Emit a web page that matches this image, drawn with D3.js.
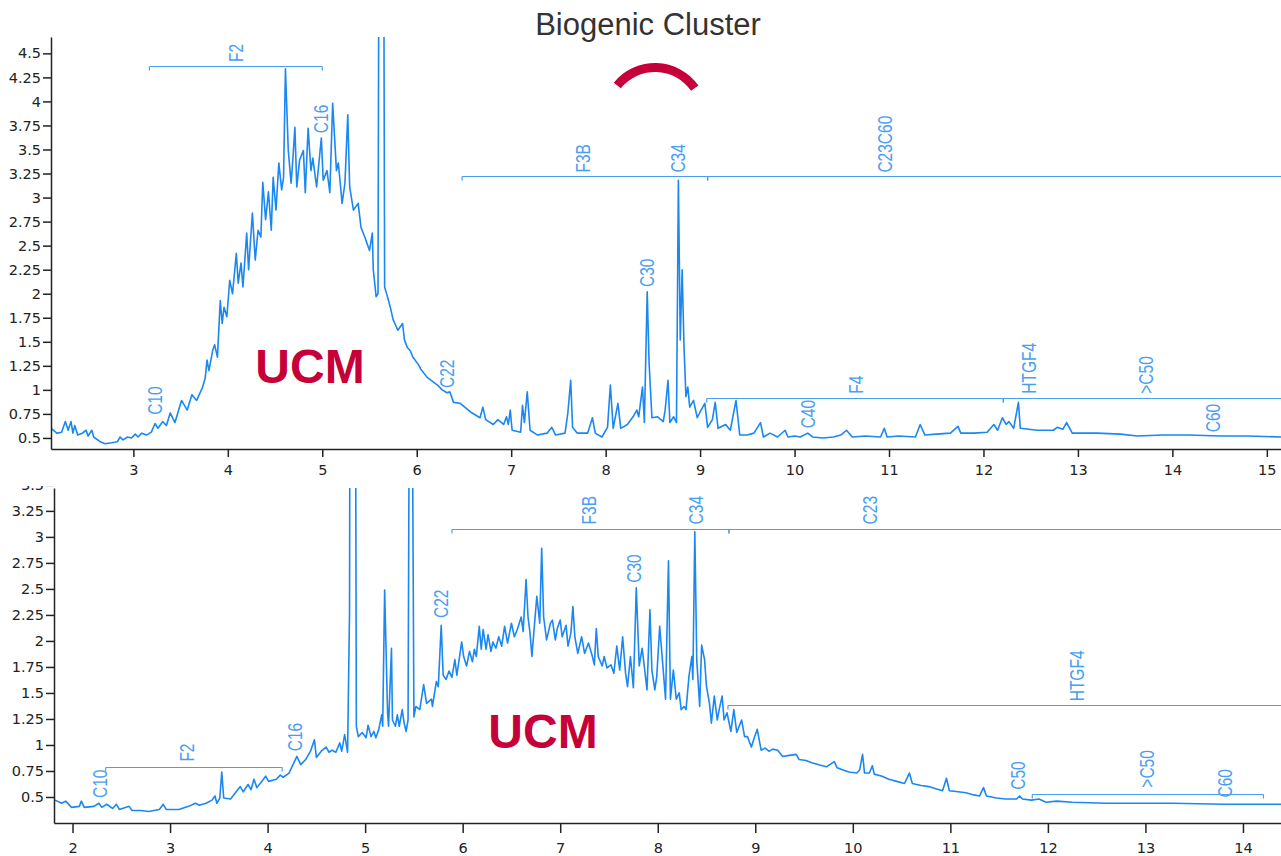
<!DOCTYPE html>
<html lang="en">
<head>
  <meta charset="UTF-8">
  <title>Biogenic Cluster</title>
  <script src="https://d3js.org/d3.v7.min.js"></script>
  <style>
    body { margin: 0; background: #fff; }
  </style>
</head>
<body>
<script>
  // Upper chromatogram: [retention time, signal]
  const topTrace = [
    [2.13,0.60],[2.19,0.55],[2.24,0.56],[2.28,0.67],[2.31,0.58],[2.34,0.67],[2.36,0.55],[2.38,0.63],[2.41,0.53],
    [2.46,0.55],[2.50,0.58],[2.52,0.52],[2.56,0.58],[2.58,0.51],[2.65,0.46],[2.70,0.44],[2.77,0.45],[2.83,0.46],
    [2.86,0.51],[2.89,0.48],[2.94,0.51],[2.98,0.50],[3.02,0.54],[3.05,0.51],[3.09,0.55],[3.14,0.53],[3.19,0.56],
    [3.23,0.65],[3.26,0.60],[3.31,0.67],[3.35,0.63],[3.39,0.76],[3.44,0.66],[3.51,0.89],[3.57,0.79],[3.62,0.95],
    [3.67,0.89],[3.73,1.02],[3.76,1.12],[3.78,1.31],[3.80,1.20],[3.84,1.41],[3.86,1.47],[3.89,1.34],[3.92,1.93],
    [3.94,1.69],[3.96,1.86],[3.99,1.76],[4.02,2.14],[4.05,2.00],[4.09,2.42],[4.11,2.11],[4.14,2.32],[4.16,2.07],
    [4.20,2.63],[4.22,2.25],[4.26,2.84],[4.29,2.35],[4.32,2.66],[4.35,2.59],[4.37,3.16],[4.40,2.77],[4.43,3.06],
    [4.46,2.66],[4.48,3.21],[4.51,2.87],[4.54,3.36],[4.57,3.08],[4.59,3.21],[4.61,4.34],[4.64,3.49],[4.67,3.15],
    [4.69,3.42],[4.71,3.73],[4.73,3.11],[4.76,3.39],[4.80,3.49],[4.82,3.05],[4.85,3.72],[4.88,3.28],[4.90,3.41],
    [4.94,3.11],[4.99,3.62],[5.01,3.18],[5.05,3.28],[5.08,3.05],[5.11,3.98],[5.15,3.28],[5.17,3.36],[5.21,2.94],
    [5.24,3.15],[5.27,3.86],[5.29,3.11],[5.33,2.87],[5.38,2.94],[5.41,2.69],[5.45,2.59],[5.50,2.45],[5.53,2.63],
    [5.54,2.25],[5.57,1.97],[5.59,2.00],[5.60,6.00],[5.65,6.00],[5.66,2.07],[5.69,1.97],[5.72,1.86],[5.75,1.73],
    [5.80,1.62],[5.85,1.69],[5.87,1.52],[5.90,1.44],[5.93,1.41],[5.96,1.34],[6.02,1.26],[6.04,1.22],[6.11,1.13],
    [6.22,1.05],[6.27,1.00],[6.32,0.97],[6.35,0.98],[6.39,0.87],[6.46,0.86],[6.57,0.77],[6.67,0.71],[6.70,0.82],
    [6.73,0.69],[6.81,0.64],[6.86,0.69],[6.92,0.64],[6.95,0.72],[6.97,0.64],[6.99,0.79],[7.01,0.58],[7.10,0.56],
    [7.12,0.84],[7.14,0.66],[7.17,0.98],[7.20,0.58],[7.28,0.53],[7.38,0.55],[7.43,0.61],[7.47,0.53],[7.57,0.55],
    [7.60,0.76],[7.63,1.10],[7.65,0.61],[7.70,0.55],[7.81,0.55],[7.86,0.71],[7.89,0.55],[7.96,0.51],[8.02,0.61],
    [8.05,1.05],[8.08,0.60],[8.13,0.86],[8.16,0.60],[8.23,0.64],[8.29,0.72],[8.33,0.79],[8.35,0.72],[8.39,1.03],
    [8.41,0.66],[8.44,2.02],[8.46,1.28],[8.49,0.71],[8.55,0.72],[8.61,0.67],[8.63,0.79],[8.66,1.10],[8.68,0.66],
    [8.72,0.72],[8.75,0.66],[8.77,3.18],[8.79,1.52],[8.81,2.25],[8.83,1.44],[8.85,0.93],[8.87,1.03],[8.89,0.82],
    [8.93,0.89],[8.97,0.71],[9.00,0.77],[9.05,0.86],[9.08,0.61],[9.13,0.69],[9.16,0.87],[9.19,0.60],[9.27,0.64],
    [9.32,0.58],[9.38,0.89],[9.42,0.53],[9.50,0.53],[9.57,0.55],[9.64,0.66],[9.67,0.51],[9.74,0.55],[9.82,0.51],
    [9.90,0.58],[9.93,0.51],[10.00,0.52],[10.06,0.51],[10.14,0.55],[10.19,0.51],[10.30,0.50],[10.41,0.51],
    [10.49,0.53],[10.55,0.58],[10.61,0.51],[10.75,0.52],[10.91,0.51],[10.95,0.60],[10.98,0.51],[11.10,0.52],
    [11.28,0.51],[11.33,0.64],[11.38,0.53],[11.50,0.54],[11.65,0.55],[11.73,0.62],[11.76,0.55],[11.90,0.55],
    [12.04,0.56],[12.11,0.64],[12.15,0.58],[12.20,0.71],[12.24,0.64],[12.27,0.67],[12.32,0.60],[12.37,0.87],
    [12.39,0.60],[12.57,0.58],[12.74,0.58],[12.78,0.61],[12.84,0.59],[12.88,0.66],[12.94,0.55],[13.20,0.55],
    [13.45,0.54],[13.63,0.52],[13.90,0.53],[14.16,0.53],[14.51,0.52],[14.80,0.52],[15.15,0.51]
  ];

  // Lower chromatogram: [retention time, signal]
  const bottomTrace = [
    [1.82,0.47],[1.89,0.44],[1.93,0.46],[1.99,0.40],[2.07,0.41],[2.09,0.46],[2.12,0.40],[2.22,0.41],[2.27,0.44],
    [2.30,0.40],[2.35,0.43],[2.41,0.39],[2.45,0.43],[2.48,0.38],[2.58,0.41],[2.61,0.37],[2.70,0.37],[2.78,0.36],
    [2.89,0.38],[2.93,0.43],[2.96,0.38],[3.09,0.38],[3.19,0.41],[3.26,0.44],[3.30,0.42],[3.37,0.44],[3.43,0.47],
    [3.46,0.51],[3.48,0.44],[3.51,0.49],[3.53,0.74],[3.55,0.49],[3.62,0.48],[3.67,0.54],[3.72,0.60],[3.75,0.55],
    [3.80,0.62],[3.83,0.57],[3.86,0.67],[3.89,0.59],[3.94,0.65],[3.98,0.70],[4.01,0.65],[4.09,0.67],[4.13,0.71],
    [4.16,0.69],[4.22,0.73],[4.27,0.83],[4.30,0.89],[4.34,0.81],[4.39,0.86],[4.44,0.94],[4.48,1.05],[4.50,0.88],
    [4.55,0.94],[4.60,0.98],[4.63,0.93],[4.66,0.95],[4.70,0.93],[4.74,1.02],[4.76,0.94],[4.79,1.10],[4.82,0.93],
    [4.84,2.28],[4.845,5.00],[4.90,5.00],[4.91,1.18],[4.93,1.08],[4.97,1.12],[5.01,1.07],[5.03,1.19],[5.06,1.08],
    [5.09,1.13],[5.11,1.07],[5.14,1.15],[5.17,1.29],[5.18,1.18],[5.20,2.49],[5.23,1.31],[5.24,1.18],[5.27,1.93],
    [5.28,1.24],[5.31,1.18],[5.33,1.29],[5.35,1.18],[5.38,1.34],[5.40,1.21],[5.42,1.13],[5.44,1.24],[5.455,5.00],
    [5.48,5.00],[5.50,1.27],[5.52,1.37],[5.56,1.34],[5.60,1.58],[5.63,1.40],[5.68,1.44],[5.69,1.37],[5.73,1.61],
    [5.75,1.56],[5.78,2.15],[5.80,1.67],[5.83,1.63],[5.86,1.71],[5.89,1.65],[5.92,1.82],[5.94,1.67],[5.99,1.99],
    [6.01,1.85],[6.04,1.76],[6.07,1.90],[6.10,1.80],[6.12,1.92],[6.14,1.85],[6.17,2.14],[6.19,1.92],[6.21,2.11],
    [6.24,1.92],[6.26,2.06],[6.29,1.90],[6.31,1.99],[6.34,1.93],[6.37,2.04],[6.40,1.95],[6.43,2.14],[6.46,1.98],
    [6.50,2.17],[6.53,2.04],[6.56,2.11],[6.60,2.23],[6.62,2.09],[6.65,2.59],[6.67,2.23],[6.69,2.08],[6.71,1.85],
    [6.74,2.20],[6.76,2.43],[6.79,2.17],[6.81,2.89],[6.83,2.23],[6.86,2.01],[6.90,2.17],[6.92,2.20],[6.95,2.01],
    [6.97,2.12],[7.00,2.20],[7.02,2.04],[7.06,2.15],[7.08,1.95],[7.11,2.08],[7.13,2.33],[7.15,2.04],[7.18,1.88],
    [7.22,2.04],[7.25,1.88],[7.29,1.98],[7.33,1.85],[7.35,1.77],[7.37,2.12],[7.39,1.85],[7.43,1.76],[7.45,1.85],
    [7.48,1.74],[7.52,1.77],[7.55,1.69],[7.58,1.95],[7.61,1.72],[7.64,2.04],[7.67,1.69],[7.69,1.56],[7.72,1.85],
    [7.75,1.55],[7.78,2.51],[7.81,1.76],[7.84,1.93],[7.87,1.69],[7.89,1.53],[7.92,2.30],[7.94,1.72],[7.97,1.53],
    [7.99,1.66],[8.02,2.14],[8.05,1.79],[8.08,1.44],[8.11,2.77],[8.13,1.44],[8.16,1.72],[8.19,1.44],[8.22,1.50],
    [8.24,1.34],[8.27,1.37],[8.29,1.34],[8.32,1.66],[8.35,1.85],[8.36,1.63],[8.38,3.05],[8.40,1.82],[8.43,1.37],
    [8.45,1.96],[8.48,1.82],[8.50,1.56],[8.53,1.40],[8.55,1.21],[8.58,1.47],[8.61,1.24],[8.63,1.34],[8.66,1.47],
    [8.68,1.24],[8.71,1.31],[8.75,1.13],[8.78,1.34],[8.81,1.12],[8.86,1.24],[8.89,1.08],[8.92,1.08],[8.96,0.98],
    [8.99,1.07],[9.02,1.15],[9.06,0.95],[9.10,0.97],[9.14,0.94],[9.18,0.96],[9.23,0.95],[9.28,0.89],[9.35,0.90],
    [9.42,0.91],[9.45,0.86],[9.52,0.85],[9.58,0.83],[9.65,0.81],[9.73,0.79],[9.81,0.84],[9.84,0.78],[9.90,0.76],
    [9.96,0.74],[10.04,0.73],[10.07,0.76],[10.10,0.91],[10.12,0.73],[10.17,0.73],[10.20,0.80],[10.22,0.72],
    [10.30,0.70],[10.37,0.67],[10.45,0.65],[10.53,0.63],[10.58,0.73],[10.61,0.63],[10.70,0.61],[10.78,0.60],
    [10.85,0.58],[10.92,0.56],[10.96,0.68],[10.99,0.56],[11.08,0.55],[11.16,0.54],[11.24,0.52],[11.30,0.51],
    [11.34,0.59],[11.37,0.51],[11.47,0.49],[11.57,0.48],[11.68,0.48],[11.71,0.51],[11.74,0.48],[11.83,0.47],
    [11.91,0.48],[11.98,0.45],[12.09,0.46],[12.25,0.45],[12.60,0.44],[13.00,0.44],[13.28,0.44],[13.80,0.43],
    [14.39,0.43]
  ];

  const topXDomain = [2.128, 15.15];
  const topYDomain = [0.385, 4.67];
  const bottomXDomain = [1.81, 14.39];
  const bottomYDomain = [0.25, 3.47];

  const topXTicks = [3, 4, 5, 6, 7, 8, 9, 10, 11, 12, 13, 14, 15];
  const topYTicks = [0.5, 0.75, 1, 1.25, 1.5, 1.75, 2, 2.25, 2.5, 2.75, 3, 3.25, 3.5, 3.75, 4, 4.25, 4.5];
  const bottomXTicks = [2, 3, 4, 5, 6, 7, 8, 9, 10, 11, 12, 13, 14];
  const bottomYTicks = [0.5, 0.75, 1, 1.25, 1.5, 1.75, 2, 2.25, 2.5, 2.75, 3, 3.25, 3.5];

  // fraction brackets: [start, end, level]
  const topBrackets = [[3.17, 5.0, 4.37], [6.48, 9.08, 3.225], [9.08, 15.15, 3.225], [9.07, 12.21, 0.915], [12.21, 15.15, 0.915]];
  const bottomBrackets = [[2.34, 4.15, 0.79], [5.89, 8.73, 3.08], [8.73, 14.39, 3.08], [8.72, 14.39, 1.38], [11.84, 14.21, 0.53]];

  // peak / fraction labels: [text, time, level where text starts]
  const topLabels = [
    ['F2', 4.09, 4.41], ['C16', 4.99, 3.67], ['C10', 3.23, 0.74], ['C22', 6.32, 1.02],
    ['F3B', 7.76, 3.26], ['C34', 8.77, 3.26], ['C23C60', 10.96, 3.26], ['C30', 8.44, 2.07],
    ['F4', 10.65, 0.96], ['HTGF4', 12.48, 0.96], ['>C50', 13.72, 0.96], ['C40', 10.14, 0.60], ['C60', 14.43, 0.56]
  ];
  const bottomLabels = [
    ['C10', 2.28, 0.49], ['F2', 3.17, 0.84], ['C16', 4.28, 0.94], ['C22', 5.78, 2.22],
    ['F3B', 7.30, 3.12], ['C34', 8.39, 3.12], ['C23', 10.18, 3.12], ['C30', 7.76, 2.56],
    ['HTGF4', 12.30, 1.42], ['C50', 11.69, 0.57], ['>C50', 13.02, 0.59], ['C60', 13.82, 0.495]
  ];

  const width = 1281;
  const height = 856;
  const traceColor = '#1a87f2';
  const markColor = '#4a9ef2';
  const red = '#c60038';

  const svg = d3.select('body')
    .append('svg')
    .attr('width', width)
    .attr('height', height);

  function drawPanel(id, box, trace, xDomain, yDomain, xTicks, yTicks, brackets, labels) {
    const x = d3.scaleLinear().domain(xDomain).range([box.left, box.right]);
    const y = d3.scaleLinear().domain(yDomain).range([box.bottom, box.top]);

    const g = svg.append('g');
    if (box.clipTop) {
      svg.append('clipPath').attr('id', id + '-panel')
        .append('rect')
        .attr('x', 0).attr('y', box.clipTop)
        .attr('width', width).attr('height', height - box.clipTop);
      g.attr('clip-path', `url(#${id}-panel)`);
    }

    svg.append('clipPath').attr('id', id + '-plot')
      .append('rect')
      .attr('x', box.left).attr('y', box.top)
      .attr('width', box.right - box.left).attr('height', box.bottom - box.top);

    // brackets
    const bg = g.append('g').attr('stroke', markColor).attr('stroke-width', 1.2).attr('fill', 'none');
    brackets.forEach(b => {
      const yy = Math.round(y(b[2])) + 0.5;
      bg.append('line').attr('x1', x(b[0])).attr('x2', x(b[1])).attr('y1', yy).attr('y2', yy);
      [b[0], b[1]].forEach(t => {
        if (t < xDomain[1] - 0.05) {
          bg.append('line').attr('x1', x(t)).attr('x2', x(t)).attr('y1', yy).attr('y2', yy + 4);
        }
      });
    });

    // trace
    const line = d3.line().x(d => x(d[0])).y(d => y(d[1]));
    g.append('path')
      .datum(trace)
      .attr('clip-path', `url(#${id}-plot)`)
      .attr('fill', 'none')
      .attr('stroke', traceColor)
      .attr('stroke-width', 1.6)
      .attr('stroke-linejoin', 'round')
      .attr('d', line);

    // labels
    g.append('g').selectAll('text')
      .data(labels)
      .join('text')
      .attr('transform', d => `translate(${x(d[1])},${y(d[2])}) scale(1.25,1) rotate(-90)`)
      .attr('dy', '0.36em')
      .attr('font-family', '"Liberation Sans", Arial, sans-serif')
      .attr('font-size', 15.5)
      .attr('fill', markColor)
      .text(d => d[0]);

    // axes
    const xAxis = g.append('g')
      .attr('transform', `translate(0,${box.bottom})`)
      .call(d3.axisBottom(x).tickValues(xTicks).tickSize(box.tick).tickSizeOuter(0).tickFormat(d => d));
    const yAxis = g.append('g')
      .attr('transform', `translate(${box.left},0)`)
      .call(d3.axisLeft(y).tickValues(yTicks).tickSize(8).tickSizeOuter(0).tickFormat(d => d));

    [xAxis, yAxis].forEach(a => {
      a.selectAll('path, line').attr('stroke', '#222').attr('stroke-width', 1.5);
      a.selectAll('text')
        .attr('font-family', '"DejaVu Sans", sans-serif')
        .attr('font-size', 14.5)
        .attr('fill', '#222');
    });
    xAxis.selectAll('text').attr('dy', box.labelDy);
    yAxis.selectAll('text').attr('x', -10);

    return { x, y, g };
  }

  drawPanel('top', { left: 51, right: 1281, top: 37, bottom: 449, tick: 8, labelDy: '1.03em' },
    topTrace, topXDomain, topYDomain, topXTicks, topYTicks, topBrackets, topLabels);
  drawPanel('bot', { left: 54, right: 1281, top: 488, bottom: 823, clipTop: 486, tick: 10, labelDy: '1.17em' },
    bottomTrace, bottomXDomain, bottomYDomain, bottomXTicks, bottomYTicks, bottomBrackets, bottomLabels);

  // title and biogenic cluster marker
  svg.append('text')
    .attr('x', 648).attr('y', 35)
    .attr('text-anchor', 'middle')
    .attr('font-family', '"Liberation Sans", Arial, sans-serif')
    .attr('font-size', 31)
    .attr('fill', '#333')
    .text('Biogenic Cluster');

  const arc = d3.arc()
    .innerRadius(44)
    .outerRadius(53)
    .startAngle(-51 * Math.PI / 180)
    .endAngle(55 * Math.PI / 180);
  svg.append('path')
    .attr('transform', 'translate(655,116)')
    .attr('d', arc())
    .attr('fill', red);

  // UCM labels
  [[310, 383], [543, 748]].forEach(p => {
    svg.append('text')
      .attr('x', p[0]).attr('y', p[1])
      .attr('text-anchor', 'middle')
      .attr('font-family', '"Liberation Sans", Arial, sans-serif')
      .attr('font-weight', 'bold')
      .attr('font-size', 48)
      .attr('fill', red)
      .text('UCM');
  });
</script>
</body>
</html>
